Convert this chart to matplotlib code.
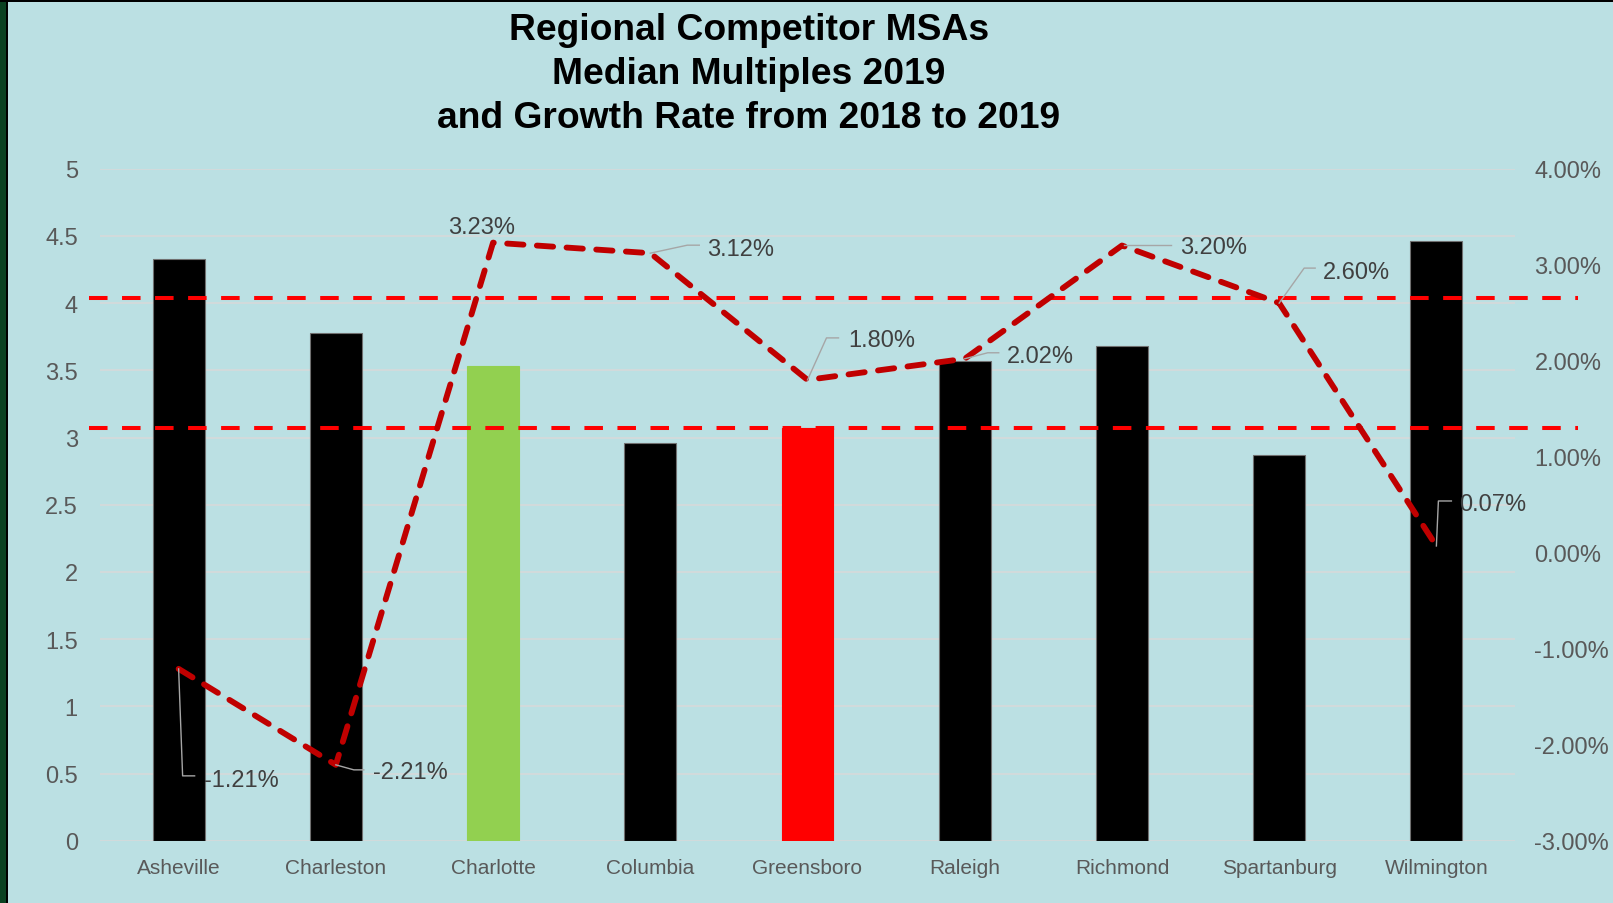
import matplotlib
matplotlib.use('Agg')
import matplotlib.pyplot as plt
import numpy as np
from matplotlib.patches import Rectangle
from matplotlib.lines import Line2D
from matplotlib.transforms import Affine2D
from matplotlib.ticker import FixedLocator, FuncFormatter

# ---------------- data ----------------
categories = ['Asheville', 'Charleston', 'Charlotte', 'Columbia', 'Greensboro',
              'Raleigh', 'Richmond', 'Spartanburg', 'Wilmington']
median_multiples = [4.33, 3.78, 3.53, 2.96, 3.07, 3.57, 3.68, 2.87, 4.46]
growth_rates = [-1.21, -2.21, 3.23, 3.12, 1.80, 2.02, 3.20, 2.60, 0.07]
reference_levels = [4.04, 3.07]
left_ticks = [0, 0.5, 1, 1.5, 2, 2.5, 3, 3.5, 4, 4.5, 5]
right_ticks = [-3, -2, -1, 0, 1, 2, 3, 4]
bar_colors = ['#000000', '#000000', '#92D050', '#000000', '#FF0000',
              '#000000', '#000000', '#000000', '#000000']
title_lines = ['Regional Competitor MSAs', 'Median Multiples 2019',
               'and Growth Rate from 2018 to 2019']

# ---------------- layout ----------------
W, H = 1613, 904
BG = '#BBE0E3'
plt.rcParams['font.family'] = ['Liberation Sans', 'DejaVu Sans']

fig = plt.figure(figsize=(W / 100, H / 100), dpi=100, facecolor=BG)
ax = fig.add_axes([100 / W, 1 - 841.7 / H, 1415 / W, 672 / H])
ax.set_facecolor('none')

x = np.arange(len(categories))
edge = ['#707070' if c == '#000000' else c for c in bar_colors]
ax.bar(x, median_multiples, width=0.33, color=bar_colors, edgecolor=edge,
       linewidth=0.8, zorder=2)

ax.set_xlim(-0.5, len(categories) - 0.5)
ax.set_ylim(0, 5)
ax.yaxis.set_major_locator(FixedLocator(left_ticks))
ax.yaxis.set_major_formatter(FuncFormatter(lambda v, p: f'{v:g}'))
ax.set_xticks(x)
ax.set_xticklabels(categories)
ax.yaxis.grid(True, color='#D9D9D9', linewidth=1.1, zorder=0)
ax.set_axisbelow(True)
for s in ax.spines.values():
    s.set_visible(False)
ax.tick_params(axis='y', length=0, pad=16, labelsize=17, labelcolor='#595959')
ax.tick_params(axis='x', length=0, pad=12.5, labelsize=15, labelcolor='#595959')

# reference dashed lines (extend beyond plot area)
for lvl in reference_levels:
    ax.plot([-0.57, 8.9], [lvl, lvl], color='#FF0000', linewidth=2.9,
            dashes=(4.6, 3.6), dash_capstyle='butt', clip_on=False, zorder=3)

# secondary axis
ax2 = ax.twinx()
ax2.set_ylim(-3, 4)
ax2.yaxis.set_major_locator(FixedLocator(right_ticks))
ax2.yaxis.set_major_formatter(FuncFormatter(lambda v, p: f'{v:.2f}%'))
for s in ax2.spines.values():
    s.set_visible(False)
ax2.tick_params(axis='y', length=0, pad=14, labelsize=17, labelcolor='#595959')

ax2.plot(x, growth_rates, color='#C00000', linewidth=4.2, dashes=(2.8, 2.3),
         dash_capstyle='round', dash_joinstyle='round', zorder=4)

# data labels: (text dx, text dy, ha, leader vertices) in pixels from point
label_layout = [
    (25, -108.5, 'left', [(0, 0), (4, -107), (16, -107)]),
    (37, -5, 'left', [(0, 0), (18, -5), (28, -5)]),
    (-11, 18, 'center', None),
    (57, 7, 'left', [(0, 0), (37, 8), (49, 8)]),
    (41, 42, 'left', [(0, 0), (19, 42), (31, 42)]),
    (42, 5, 'left', [(0, 0), (23, 6), (34, 6)]),
    (58, 1, 'left', [(2, 1), (49, 1)]),
    (44, 34, 'left', [(0, 0), (25, 35), (36, 35)]),
    (23, 44, 'left', [(0, 0), (2, 45), (15, 45)]),
]
half_cap = 8.5
for xi, yi, (dx, dy, ha, leader) in zip(x, growth_rates, label_layout):
    ax2.annotate(f'{yi:.2f}%', (xi, yi), xytext=(dx, dy - half_cap),
                 textcoords='offset pixels', ha=ha, va='baseline',
                 fontsize=17, color='#404040', zorder=6)
    if leader:
        px, py = ax2.transData.transform((xi, yi))
        lx = [p[0] for p in leader]
        ly = [p[1] for p in leader]
        ln = Line2D(lx, ly, transform=Affine2D().translate(px, py),
                    color='#A6A6A6', linewidth=1.0, zorder=5)
        ln.set_clip_on(False)
        ax2.add_line(ln)

# title
fig.text(749 / W, 1 - 74.5 / H, '\n'.join(title_lines), ha='center', va='center',
         fontsize=26.8, fontweight='bold', color='black', linespacing=1.33)

# border
fig.add_artist(Rectangle((0, 0), 6 / W, 1, transform=fig.transFigure,
                         facecolor='#0A4121', edgecolor='none'))
fig.add_artist(Rectangle((6 / W, 0), 2.3 / W, 1, transform=fig.transFigure,
                         facecolor='black', edgecolor='none'))
fig.add_artist(Rectangle((0, 1 - 3.3 / H), 1, 2.3 / H, transform=fig.transFigure,
                         facecolor='black', edgecolor='none'))
fig.add_artist(Rectangle((0, 1 - 1 / H), 1, 1 / H, transform=fig.transFigure,
                         facecolor='#0A4121', edgecolor='none'))

fig.savefig('out.png', dpi=100, facecolor=BG)
